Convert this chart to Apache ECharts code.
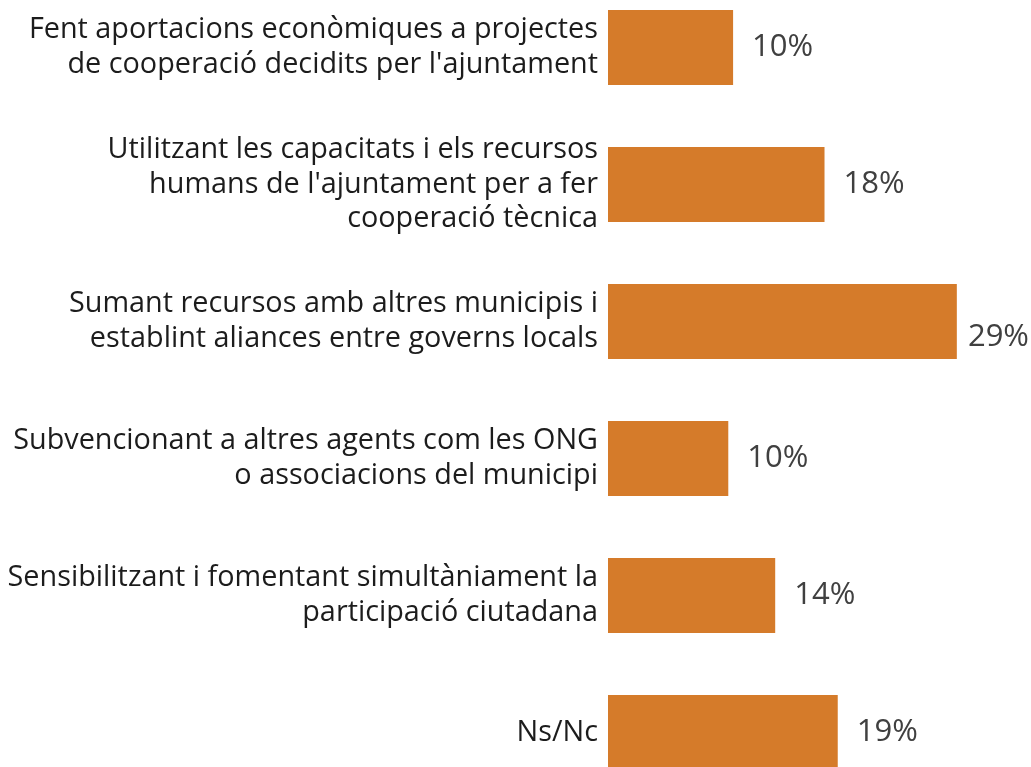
<!DOCTYPE html>
<html>
<head>
<meta charset="utf-8">
<script src="https://cdn.jsdelivr.net/npm/echarts@6/dist/echarts.min.js"></script>
<style>html,body{margin:0;padding:0;background:#fff;}#c{width:1031px;height:767px;}</style>
</head>
<body>
<div id="c"></div>
<script>
const categories = [
  "Fent aportacions econòmiques a projectes\nde cooperació decidits per l'ajuntament",
  "Utilitzant les capacitats i els recursos\nhumans de l'ajuntament per a fer\ncooperació tècnica",
  "Sumant recursos amb altres municipis i\nestablint aliances entre governs locals",
  "Subvencionant a altres agents com les ONG\no associacions del municipi",
  "Sensibilitzant i fomentant simultàniament la\nparticipació ciutadana",
  "Ns/Nc"
];
const values = [10.4, 18.0, 29.0, 10.0, 13.9, 19.1];

const chart = echarts.init(document.getElementById('c'));
chart.setOption({
  animation: false,
  grid: { left: 608, right: 2, top: 47.5, bottom: 34.5, containLabel: false },
  xAxis: { type: 'value', min: 0, max: 35, show: false },
  yAxis: {
    type: 'category', data: categories, inverse: true, boundaryGap: false,
    axisLine: { show: false }, axisTick: { show: false },
    axisLabel: {
      margin: 10, fontSize: 28.8, lineHeight: 34.5, color: '#1c1c1c',
      fontFamily: 'Open Sans', align: 'right', padding: [0, 0, 6, 0]
    }
  },
  series: [{
    type: 'bar', data: values, barWidth: 75, clip: false,
    itemStyle: { color: '#D57B2A' },
    label: {
      show: true, position: 'right', distance: 19,
      fontSize: 31, color: '#404040', fontFamily: 'Open Sans',
      formatter: p => Math.round(p.value) + '%'
    },
    labelLayout: function (p) {
      const r = p.labelRect;
      const maxRight = 1029;
      if (r.x + r.width > maxRight) {
        return { x: maxRight - r.width };
      }
    }
  }]
});
</script>
</body>
</html>
